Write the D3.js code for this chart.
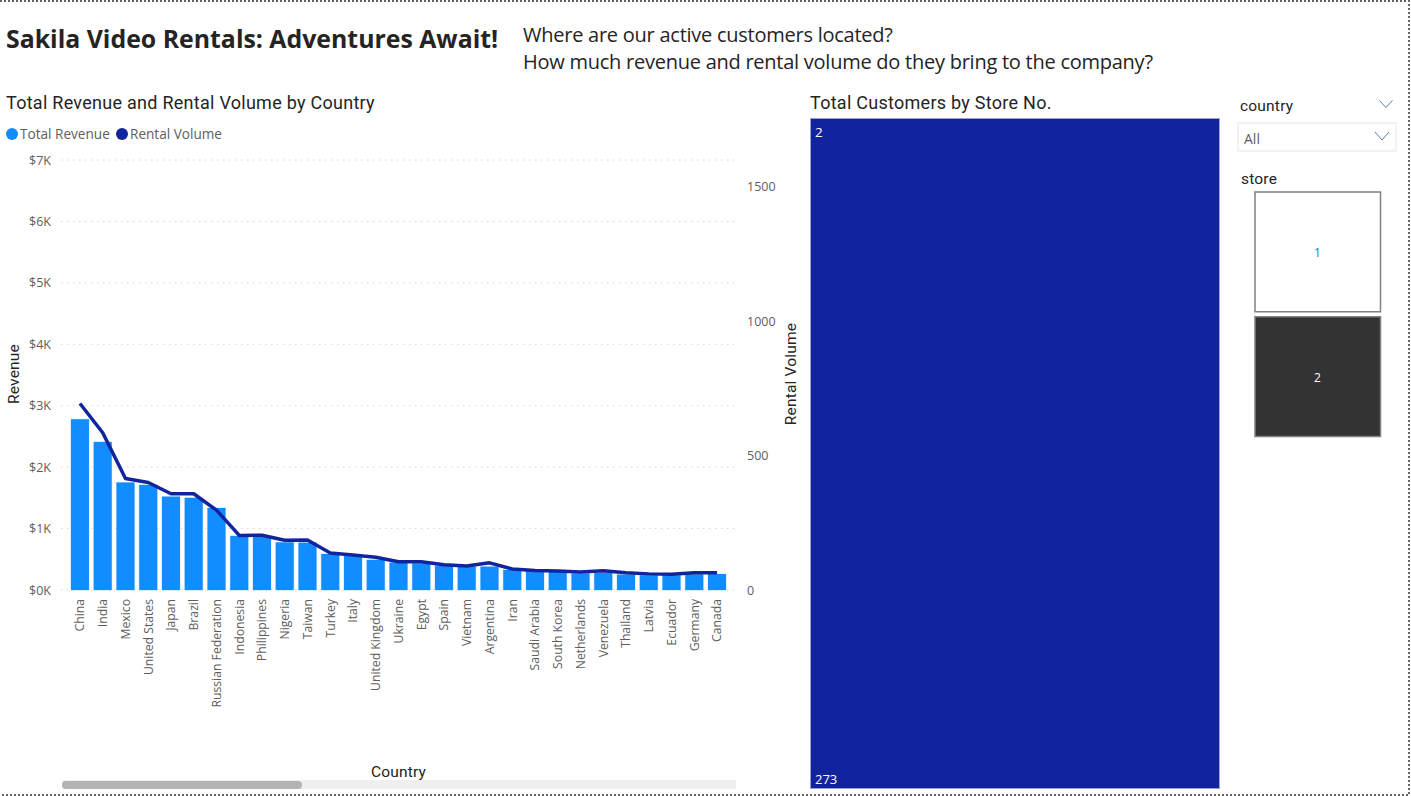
<!DOCTYPE html>
<html>
<head>
<meta charset="utf-8">
<script src="https://cdn.jsdelivr.net/npm/d3@7"></script>
<style>
  html, body { margin: 0; padding: 0; background: #fff; overflow: hidden; }
  svg { display: block; }
</style>
</head>
<body>
<svg id="page" width="1411" height="796"></svg>
<script>
// Values
const countries = ["China", "India", "Mexico", "United States", "Japan", "Brazil", "Russian Federation",
  "Indonesia", "Philippines", "Nigeria", "Taiwan", "Turkey", "Italy", "United Kingdom", "Ukraine", "Egypt",
  "Spain", "Vietnam", "Argentina", "Iran", "Saudi Arabia", "South Korea", "Netherlands", "Venezuela",
  "Thailand", "Latvia", "Ecuador", "Germany", "Canada"];
const revenue = [2780, 2410, 1750, 1710, 1520, 1500, 1335, 880, 870, 776, 770, 586, 553, 490, 445, 434,
  396, 380, 380, 326, 315, 310, 270, 280, 250, 240, 240, 255, 260];
const rentals = [694, 585, 415, 400, 358, 358, 297, 203, 204, 185, 186, 138, 130, 122, 105, 105,
  94, 89, 101, 78, 73, 71, 67, 72, 64, 60, 59, 64, 64];
const revenueTicks = [0, 1000, 2000, 3000, 4000, 5000, 6000, 7000];
const volumeTicks = [0, 500, 1000, 1500];
const legendItems = ["Total Revenue", "Rental Volume"];
const storeNames = ["1", "2"];
const storeCustomers = [{ store: "2", customers: 273 }];

const barColor = "#118dff";
const lineColor = "#12239e";
const labelFont = "'Open Sans', sans-serif";
const headFont = "Roboto, sans-serif";

const svg = d3.select("#page");

// Text helper, everything on the page is placed the same way
function addText(x, y, str, size, color, family, weight, anchor, spacing) {
  return svg.append("text")
    .attr("x", x).attr("y", y)
    .attr("font-size", size)
    .attr("fill", color)
    .attr("font-family", family)
    .attr("font-weight", weight || "normal")
    .attr("text-anchor", anchor || "start")
    .attr("letter-spacing", spacing || 0)
    .text(str);
}

// Headers
addText(6, 48, "Sakila Video Rentals: Adventures Await!", 24.85, "#252423", labelFont, "bold");
addText(523, 42, "Where are our active customers located?", 20, "#252423", labelFont, "normal", "start", -0.25);
addText(523, 69, "How much revenue and rental volume do they bring to the company?", 20, "#252423", labelFont, "normal", "start", -0.25);
addText(6, 109, "Total Revenue and Rental Volume by Country", 18, "#252423", headFont, "normal", "start", 0.27);
addText(810, 109, "Total Customers by Store No.", 18, "#252423", headFont, "normal", "start", 0.27);

// Legend
const legendX = [12, 122];
legendItems.forEach((name, i) => {
  svg.append("circle").attr("cx", legendX[i]).attr("cy", 134).attr("r", 6)
    .attr("fill", i === 0 ? barColor : lineColor);
  addText(legendX[i] + 8, 139, name, 13.6, "#605e5c", labelFont);
});

// Scales
const x = d3.scaleBand().domain(countries).range([68.6, 728.4]).paddingInner(0.21).paddingOuter(0.105);
const yRevenue = d3.scaleLinear().domain([0, 7000]).range([590, 160]);
const yVolume = d3.scaleLinear().domain([0, 1600]).range([590, 160]);

// Gridlines
svg.append("g").selectAll("line")
  .data(revenueTicks)
  .enter().append("line")
  .attr("x1", 61).attr("x2", 735)
  .attr("y1", d => yRevenue(d)).attr("y2", d => yRevenue(d))
  .attr("stroke", "#d6d6d6")
  .attr("stroke-dasharray", "1.5 4.5");

// Left axis
const leftAxis = d3.axisLeft(yRevenue)
  .tickValues(revenueTicks)
  .tickSize(0)
  .tickFormat(d => "$" + d / 1000 + "K");
const leftG = svg.append("g").attr("transform", "translate(54,0)").call(leftAxis);
leftG.select(".domain").remove();
leftG.selectAll("text").attr("font-size", 12.5).attr("font-family", labelFont).attr("fill", "#605e5c");

// Right axis
const rightAxis = d3.axisRight(yVolume).tickValues(volumeTicks).tickSize(0).tickFormat(d3.format("d"));
const rightG = svg.append("g").attr("transform", "translate(744,0)").call(rightAxis);
rightG.select(".domain").remove();
rightG.selectAll("text").attr("font-size", 12.5).attr("font-family", labelFont).attr("fill", "#605e5c");

// Bars
svg.append("g").selectAll("rect")
  .data(countries)
  .enter().append("rect")
  .attr("x", d => x(d))
  .attr("y", (d, i) => yRevenue(revenue[i]))
  .attr("width", x.bandwidth())
  .attr("height", (d, i) => yRevenue(0) - yRevenue(revenue[i]))
  .attr("fill", barColor)
  .attr("stroke", barColor)
  .attr("stroke-opacity", 0.25);

// Line
const line = d3.line()
  .x((d, i) => x(countries[i]) + x.bandwidth() / 2)
  .y(d => yVolume(d));
svg.append("path")
  .datum(rentals)
  .attr("d", line)
  .attr("fill", "none")
  .attr("stroke", lineColor)
  .attr("stroke-width", 3.5)
  .attr("stroke-linejoin", "round");

// Country labels
const bottomAxis = d3.axisBottom(x).tickSize(0);
const bottomG = svg.append("g").attr("transform", "translate(0,590)").call(bottomAxis);
bottomG.select(".domain").remove();
bottomG.selectAll("text")
  .attr("font-size", 12.2)
  .attr("font-family", labelFont)
  .attr("fill", "#605e5c")
  .attr("text-anchor", "end")
  .attr("transform", "rotate(-90)")
  .attr("x", -9)
  .attr("y", 0)
  .attr("dy", "0.35em");

// Axis titles
addText(0, 0, "Revenue", 15.5, "#252423", headFont, "normal", "middle", 0.2)
  .attr("transform", "translate(19,374) rotate(-90)");
addText(0, 0, "Rental Volume", 15.5, "#252423", headFont, "normal", "middle", 0.2)
  .attr("transform", "translate(796,374) rotate(-90)");
addText(398.5, 777, "Country", 15.5, "#252423", headFont, "normal", "middle", 0.2);

// Scrollbar
svg.append("rect").attr("x", 62).attr("y", 780).attr("width", 674).attr("height", 9).attr("fill", "#efefef");
svg.append("rect").attr("x", 62).attr("y", 781).attr("width", 240).attr("height", 8).attr("rx", 4).attr("fill", "#b3b3b3");

// Treemap
const root = d3.hierarchy({ children: storeCustomers }).sum(d => d.customers);
d3.treemap().size([410, 671])(root);
const leaf = svg.append("g").attr("transform", "translate(810,118)").selectAll("g")
  .data(root.leaves())
  .enter().append("g");
leaf.append("rect")
  .attr("x", d => d.x0 + 0.5).attr("y", d => d.y0 + 0.5)
  .attr("width", d => d.x1 - d.x0 - 1).attr("height", d => d.y1 - d.y0 - 1)
  .attr("fill", lineColor)
  .attr("stroke", "#99a1d6");
leaf.append("text").attr("x", d => d.x0 + 5).attr("y", d => d.y0 + 19)
  .attr("font-size", 13.5).attr("font-family", labelFont).attr("fill", "#fff")
  .text(d => d.data.store);
leaf.append("text").attr("x", d => d.x0 + 5).attr("y", d => d.y1 - 5)
  .attr("font-size", 13).attr("font-family", labelFont).attr("fill", "#fff")
  .text(d => d.data.customers);

// Chevron used by the country slicer
function chevron(cx, cy, w, h) {
  svg.append("path")
    .attr("d", d3.line()([[cx - w, cy - h], [cx, cy + h], [cx + w, cy - h]]))
    .attr("fill", "none").attr("stroke", "#5f7f9f").attr("stroke-width", 1);
}

// Slicers
addText(1240, 111, "country", 15.5, "#252423", headFont, "normal", "start", 0.2);
chevron(1386, 104, 6.5, 3.5);
svg.append("rect").attr("x", 1238).attr("y", 123).attr("width", 158).attr("height", 28)
  .attr("fill", "#fff").attr("stroke", "#eeeeee").attr("stroke-width", 1.5);
addText(1244, 144, "All", 14, "#605e5c", labelFont);
chevron(1382, 136, 7, 4);

addText(1241, 184, "store", 15.5, "#252423", headFont, "normal", "start", 0.2);
const tileY = d3.scaleBand().domain(storeNames).range([192, 436.5]).paddingInner(0.04);
storeNames.forEach((name, i) => {
  svg.append("rect").attr("x", 1255).attr("y", tileY(name)).attr("width", 125.5).attr("height", tileY.bandwidth())
    .attr("fill", i === 1 ? "#333333" : "#fff").attr("stroke", "#808080").attr("stroke-width", 1.5);
  addText(1317.5, tileY(name) + tileY.bandwidth() / 2 + 5, name, 12, i === 1 ? "#fff" : "#3a6fc4", labelFont, "normal", "middle");
});

// Dotted page border
svg.append("path")
  .attr("d", d3.line()([[0, 1], [1409, 1], [1409, 795], [0, 795]]))
  .attr("fill", "none").attr("stroke", "#666").attr("stroke-width", 2).attr("stroke-dasharray", "2 2");
</script>
</body>
</html>
